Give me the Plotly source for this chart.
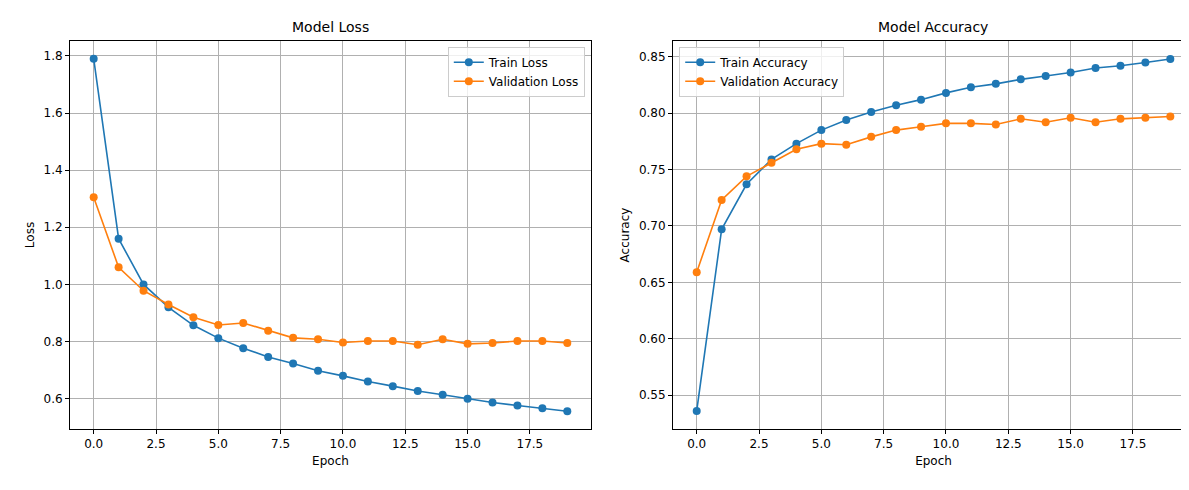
import plotly.graph_objects as go
from plotly.subplots import make_subplots

epochs = list(range(20))
train_loss = [1.79, 1.16, 1.00, 0.92, 0.857, 0.812, 0.777, 0.746, 0.723, 0.698,
              0.680, 0.660, 0.644, 0.627, 0.614, 0.600, 0.587, 0.576, 0.567, 0.556]
val_loss = [1.305, 1.06, 0.978, 0.930, 0.885, 0.858, 0.865, 0.838, 0.813, 0.808,
            0.797, 0.802, 0.802, 0.789, 0.808, 0.792, 0.795, 0.802, 0.802, 0.795]
train_acc = [0.536, 0.697, 0.737, 0.759, 0.773, 0.785, 0.794, 0.801, 0.807, 0.812,
             0.818, 0.823, 0.826, 0.830, 0.833, 0.836, 0.840, 0.842, 0.845, 0.848]
val_acc = [0.659, 0.723, 0.744, 0.756, 0.768, 0.773, 0.772, 0.779, 0.785, 0.788,
           0.791, 0.791, 0.790, 0.795, 0.792, 0.796, 0.792, 0.795, 0.796, 0.797]

BLUE = "#1f77b4"
ORANGE = "#ff7f0e"

fig = make_subplots(rows=1, cols=2, horizontal_spacing=0.073)

def add(y, name, color, col, legend):
    fig.add_trace(go.Scatter(
        x=epochs, y=y, name=name, mode="lines+markers",
        line=dict(color=color, width=1.6), marker=dict(size=8, color=color),
        legend=legend), row=1, col=col)

add(train_loss, "Train Loss", BLUE, 1, "legend")
add(val_loss, "Validation Loss", ORANGE, 1, "legend")
add(train_acc, "Train Accuracy", BLUE, 2, "legend2")
add(val_acc, "Validation Accuracy", ORANGE, 2, "legend2")

ax = dict(showline=True, linecolor="black", linewidth=1, mirror=True,
          showgrid=True, gridcolor="#b0b0b0", gridwidth=1, zeroline=False,
          ticks="outside", ticklen=4, tickcolor="black",
          tickfont=dict(size=12, color="black"))

for c in (1, 2):
    fig.update_xaxes(**ax, range=[-0.95, 19.95], tick0=0, dtick=2.5, tickformat=".1f",
                     title=dict(text="Epoch", font=dict(size=12), standoff=6),
                     row=1, col=c)
fig.update_yaxes(**ax, range=[0.494, 1.852], dtick=0.2, tickformat=".1f",
                 title=dict(text="Loss", font=dict(size=12), standoff=6), row=1, col=1)
fig.update_yaxes(**ax, range=[0.520, 0.864], dtick=0.05, tickformat=".2f",
                 title=dict(text="Accuracy", font=dict(size=12), standoff=6), row=1, col=2)

leg = dict(bgcolor="rgba(255,255,255,0.8)", bordercolor="#cccccc", borderwidth=1,
           font=dict(size=12, color="black"))
fig.update_layout(
    width=1189, height=490,
    margin=dict(l=62, r=3, t=33, b=69),
    plot_bgcolor="white", paper_bgcolor="white",
    font=dict(family="DejaVu Sans", color="black"),
    legend=dict(**leg, x=0.458, y=0.985, xanchor="right", yanchor="top"),
    legend2=dict(**leg, x=0.542, y=0.985, xanchor="left", yanchor="top"),
    annotations=[
        dict(text="Model Loss", x=0.2318, y=1.0, xref="paper", yref="paper",
             xanchor="center", yanchor="bottom", yshift=4, showarrow=False,
             font=dict(size=14)),
        dict(text="Model Accuracy", x=0.768, y=1.0, xref="paper", yref="paper",
             xanchor="center", yanchor="bottom", yshift=4, showarrow=False,
             font=dict(size=14)),
    ],
)

fig.write_html("out.html")
